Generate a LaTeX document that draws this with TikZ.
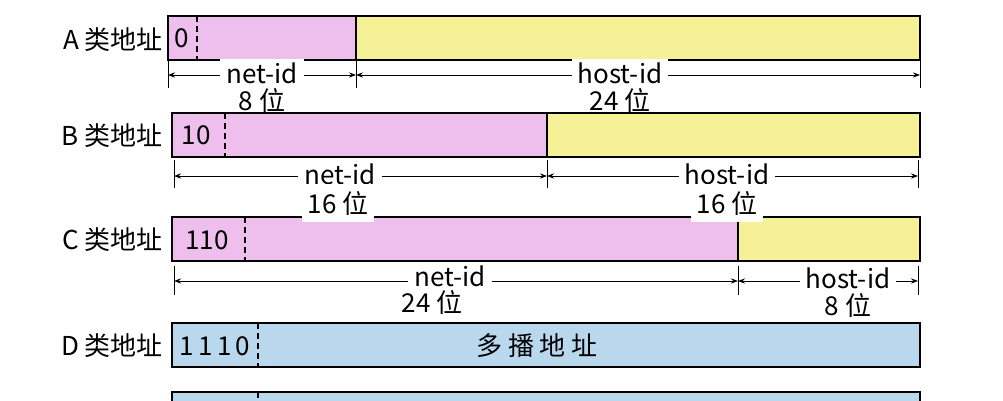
\documentclass[tikz,border=0pt]{standalone}
\usepackage{fontspec}
\setmainfont{Noto Sans CJK SC}
\usetikzlibrary{arrows.meta}
\definecolor{netpink}{RGB}{238,190,236}
\definecolor{hostyellow}{RGB}{246,240,150}
\definecolor{mcblue}{RGB}{185,216,238}
\tikzset{
  field/.style={draw=black,line width=1.8pt},
  split/.style={dash pattern=on 6pt off 4pt,line width=1.4pt},
  dimtick/.style={line width=1pt},
  dimline/.style={line width=1pt,{Stealth[length=7pt]}-{Stealth[length=7pt]}},
  txt/.style={font=\fontsize{26}{26}\selectfont,inner sep=1pt},
  lbl/.style={txt,fill=white,inner xsep=6pt,inner ysep=3pt},
  cls/.style={txt,anchor=east}
}
\newcommand{\classrow}[6]{% y, left, split x, dashed x, color of second part, prefix
  \fill[netpink] (#2,#1) rectangle (#3,#1+44);
  \fill[#5] (#3,#1) rectangle (920,#1+44);
  \draw[field] (#2,#1) rectangle (920,#1+44);
  \draw[field] (#3,#1) -- (#3,#1+44);
  \draw[split] (#4,#1) -- (#4,#1+44);
}
\begin{document}
\begin{tikzpicture}[x=1pt,y=-1pt]
\useasboundingbox (0,0) rectangle (1003,400);
% A
\classrow{16}{168}{356}{197}{hostyellow}{}
\node[txt] (a0) at (182,38) {0};
\node[cls] (ca) at (164,40) {A 类地址};
\coordinate (aL) at (168,75); \coordinate (aM) at (356,75); \coordinate (aR) at (920,75);
\foreach \p in {aL,aM,aR} \draw[dimtick] ([yshift=-13pt]\p) -- ([yshift=20pt]\p);
\draw[dimline] (aL) -- (aM); \draw[dimline] (aM) -- (aR);
\node[lbl] (an) at (262,73) {net-id};
\node[txt] (anb) at (262,100) {8 位};
\node[lbl] (ah) at (620,73) {host-id};
\node[txt] (ahb) at (620,100) {24 位};
% B
\classrow{113}{172}{547}{225}{hostyellow}{}
\node[txt] (b0) at (196,135) {10};
\node[cls] (cb) at (164,136) {B 类地址};
\coordinate (bL) at (174,176); \coordinate (bM) at (547,176); \coordinate (bR) at (918,176);
\foreach \p in {bL,bM,bR} \draw[dimtick] ([yshift=-12pt]\p) -- ([yshift=16pt]\p);
\draw[dimline] (bL) -- (bM); \draw[dimline] (bM) -- (bR);
\node[lbl] (bn) at (340,174) {net-id};
\node[lbl] (bh) at (727,174) {host-id};
% C
\classrow{217}{172}{738}{245}{hostyellow}{}
\node[lbl,inner ysep=7pt] (bnb) at (338,203) {16 位};
\node[lbl,inner ysep=7pt] (bhb) at (727,203) {16 位};
\node[txt] (c0) at (207,240) {110};
\node[cls] (cc) at (164,240) {C 类地址};
\coordinate (cL) at (174,281); \coordinate (cM) at (738,281); \coordinate (cR) at (918,281);
\foreach \p in {cL,cM,cR} \draw[dimtick] ([yshift=-14pt]\p) -- ([yshift=15pt]\p);
\draw[dimline] (cL) -- (cM); \draw[dimline] (cM) -- (cR);
\node[lbl] (cn) at (450,276) {net-id};
\node[txt] (cnb) at (432,302) {24 位};
\node[lbl] (ch) at (848,278) {host-id};
\node[txt] (chb) at (848,305) {8 位};
% D
\fill[mcblue] (172,323) rectangle (920,367);
\draw[field] (172,323) rectangle (920,367);
\draw[split] (258,323) -- (258,367);
\node[txt] (d0) at (215,346) {1\,1\,1\,0};
\node[cls] (cd) at (164,346) {D 类地址};
\node[txt] (dm) at (537,346) {多 播 地 址};
% E
\fill[mcblue] (172,392) rectangle (920,420);
\draw[field] (172,420) -- (172,392) -- (920,392) -- (920,420);
\draw[split] (258,392) -- (258,420);
\end{tikzpicture}
\end{document}
